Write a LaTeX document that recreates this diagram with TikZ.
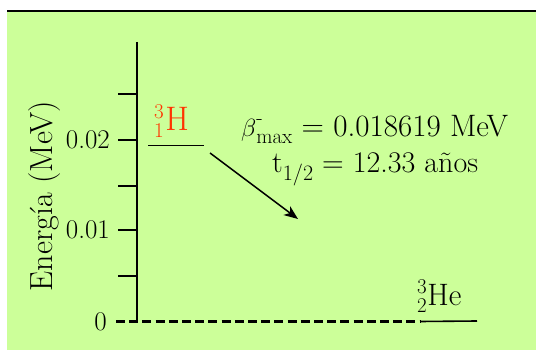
\documentclass[tikz,border=0pt]{standalone}
\usepackage{fontspec}
\usetikzlibrary{arrows.meta}
\definecolor{bg}{RGB}{204,255,153}
\definecolor{hred}{RGB}{255,51,0}
\newcommand{\fs}[1]{\rmfamily\fontsize{#1}{#1}\selectfont}
\newcommand{\supsub}[2]{\makebox[0pt][l]{\raisebox{12pt}{\fs{21}#1}}\raisebox{-7pt}{\fs{21}#2}}
\begin{document}
\begin{tikzpicture}[x=1pt,y=-1pt,
  ax/.style={line width=2pt},
  lvl/.style={line width=1.6pt},
  lbl/.style={inner sep=0pt,font=\fs{27}},
  txt/.style={inner sep=0pt,font=\fs{31}}]
\useasboundingbox (0,0) rectangle (536,350);
\fill[white] (0,0) rectangle (536,350);
\fill[bg] (7,12) rectangle (536,350);
\draw[line width=2pt] (7,11.5) -- (536,11.5);
% axis
\coordinate (atop) at (137,42);
\coordinate (abot) at (137,322);
\draw[ax] (atop) -- (abot);
\foreach \y in {94,140,186,230,276} \draw[ax] (118,\y) -- (137,\y);
\node[lbl,anchor=east] (l2) at (110,140) {0.02};
\node[lbl,anchor=east] (l1) at (110,230) {0.01};
\node[lbl,anchor=east] (l0) at (107,322) {0};
\node[inner sep=0pt,font=\fs{32},rotate=90] (ylab) at (45,196) {Energía (MeV)};
% baseline
\coordinate (d0) at (116,321.5);
\coordinate (d1) at (420,321.5);
\coordinate (he1) at (477,321);
\draw[line width=3.2pt,dash pattern=on 9pt off 4.2pt] (d0) -- (d1);
\draw[lvl] (d1) -- (he1);
% H level
\coordinate (h0) at (148,145.5);
\coordinate (h1) at (204,145.5);
\draw[lvl] (h0) -- (h1);
\node[inner sep=0pt,anchor=base west,text=hred,font=\fs{34}] (H) at (154,131) {\supsub{3}{1}\kern1.5pt H};
\node[inner sep=0pt,anchor=base west,font=\fs{31}] (He) at (417,305) {\supsub{3}{2}\kern0.5pt He};
% arrow
\coordinate (a0) at (210,153);
\coordinate (a1) at (298,219);
\draw[line width=1.5pt,-{Stealth[length=14pt,width=11pt,inset=4pt]}] (a0) -- (a1);
% texts
\node[txt,anchor=base west] (beta) at (241,137) {$\beta$\supsub{-}{max} = 0.018619 MeV};
\node[inner sep=0pt,font=\fs{30},anchor=base west] (thalf) at (272,173) {t\raisebox{-8pt}{\fs{22}1/2} = 12.33 años};
\end{tikzpicture}
\end{document}
